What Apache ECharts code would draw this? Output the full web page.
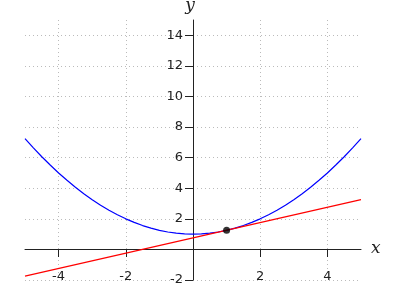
<!DOCTYPE html>
<html>
<head>
<meta charset="utf-8">
<script src="https://cdn.jsdelivr.net/npm/echarts@6/dist/echarts.min.js"></script>
<style>html,body{margin:0;padding:0;background:#fff}#c{width:400px;height:300px}</style>
</head>
<body>
<div id="c"></div>
<script>
const curveX = [-5,-4.75,-4.5,-4.25,-4,-3.75,-3.5,-3.25,-3,-2.75,-2.5,-2.25,-2,-1.75,-1.5,-1.25,-1,-0.75,-0.5,-0.25,0,0.25,0.5,0.75,1,1.25,1.5,1.75,2,2.25,2.5,2.75,3,3.25,3.5,3.75,4,4.25,4.5,4.75,5];
const curveY = [7.25,6.64,6.06,5.52,5.0,4.52,4.06,3.64,3.25,2.89,2.56,2.27,2.0,1.77,1.56,1.39,1.25,1.14,1.06,1.02,1.0,1.02,1.06,1.14,1.25,1.39,1.56,1.77,2.0,2.27,2.56,2.89,3.25,3.64,4.06,4.52,5.0,5.52,6.06,6.64,7.25];
const lineX = [-5, 5];
const lineY = [-1.75, 3.25];
const pointX = [1];
const pointY = [1.25];
const xTicks = [-4, -2, 2, 4];
const yTicks = [-2, 2, 4, 6, 8, 10, 12, 14];

const zip = (a, b) => a.map((v, i) => [v, b[i]]);
const chart = echarts.init(document.getElementById('c'), null, {renderer: 'canvas'});
const gridLine = {show: true, lineStyle: {color: '#bbbbbb', type: [1, 3], width: 1}};
chart.setOption({
  animation: false,
  grid: {left: 25, right: 39, top: 20, bottom: 20, containLabel: false, outerBoundsMode: 'none'},
  xAxis: {
    type: 'value', min: -5, max: 5, position: 'bottom', offset: -31,
    name: 'x', nameLocation: 'end', nameGap: 10,
    nameTextStyle: {fontFamily: 'DejaVu Serif', fontStyle: 'italic', fontSize: 17, color: '#222', verticalAlign: 'middle', padding: [17, 0, 0, 0]},
    axisLine: {onZero: false, lineStyle: {color: '#222', width: 1}},
    axisTick: {show: true, length: 8, customValues: xTicks, lineStyle: {color: '#222', width: 1}},
    axisLabel: {customValues: xTicks, margin: 21, fontFamily: 'DejaVu Sans', fontSize: 13, color: '#222'},
    splitLine: gridLine
  },
  yAxis: {
    type: 'value', min: -2, max: 15, position: 'left', offset: -168,
    name: 'y', nameLocation: 'end', nameGap: 6,
    nameTextStyle: {fontFamily: 'DejaVu Serif', fontStyle: 'italic', fontSize: 17, color: '#222', padding: [0, 6, 0, 0]},
    axisLine: {onZero: false, lineStyle: {color: '#222', width: 1}},
    axisTick: {show: true, length: 8, customValues: yTicks, lineStyle: {color: '#222', width: 1}},
    axisLabel: {customValues: yTicks, margin: 10, fontFamily: 'DejaVu Sans', fontSize: 13, color: '#222'},
    splitLine: gridLine
  },
  series: [
    {type: 'line', data: zip(curveX, curveY), showSymbol: false, smooth: false, lineStyle: {color: '#0000ff', width: 1.2}, z: 3},
    {type: 'line', data: zip(lineX, lineY), showSymbol: false, lineStyle: {color: '#ff0000', width: 1.2}, z: 4},
    {type: 'scatter', data: zip(pointX, pointY), symbol: 'circle', symbolSize: 7, itemStyle: {color: '#000'}, z: 5}
  ]
});
</script>
</body>
</html>
